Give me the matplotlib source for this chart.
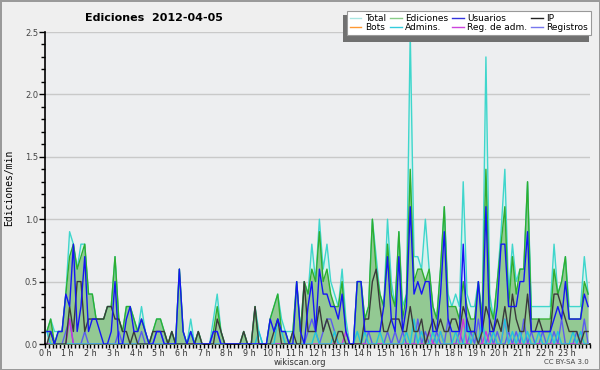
import matplotlib
matplotlib.use('Agg')
import matplotlib.pyplot as plt
from matplotlib.lines import Line2D
from matplotlib.patches import Rectangle
import numpy as np

# 10-minute bins over the day (144 bins), values in edits/min
hour_labels = [f"{h} h" for h in range(24)]

total = [
    0.1, 0.2, 0.1, 0.1, 0.1, 0.4,
    0.9, 0.8, 0.6, 0.8, 0.8, 0.4,
    0.4, 0.2, 0.2, 0.2, 0.3, 0.3,
    0.7, 0.2, 0.1, 0.3, 0.3, 0.2,
    0.1, 0.3, 0.1, 0.0, 0.1, 0.2,
    0.2, 0.1, 0.0, 0.1, 0.0, 0.6,
    0.1, 0.0, 0.2, 0.0, 0.1, 0.0,
    0.0, 0.0, 0.2, 0.4, 0.1, 0.0,
    0.0, 0.0, 0.0, 0.0, 0.1, 0.0,
    0.0, 0.3, 0.1, 0.0, 0.0, 0.2,
    0.3, 0.4, 0.2, 0.1, 0.1, 0.1,
    0.5, 0.1, 0.5, 0.4, 0.8, 0.5,
    1.0, 0.6, 0.8, 0.5, 0.4, 0.3,
    0.6, 0.2, 0.0, 0.0, 0.5, 0.5,
    0.2, 0.3, 1.0, 0.7, 0.4, 0.3,
    1.0, 0.5, 0.3, 0.9, 0.3, 0.4,
    2.5, 0.7, 0.7, 0.6, 1.0, 0.6,
    0.3, 0.2, 0.6, 1.1, 0.4, 0.3,
    0.4, 0.3, 1.3, 0.4, 0.3, 0.3,
    0.5, 0.2, 2.3, 0.4, 0.2, 0.5,
    0.9, 1.4, 0.4, 0.8, 0.5, 0.6,
    0.6, 1.3, 0.3, 0.3, 0.3, 0.3,
    0.3, 0.3, 0.8, 0.4, 0.5, 0.7,
    0.3, 0.3, 0.3, 0.3, 0.7, 0.4,
]

edits = [
    0.1, 0.2, 0.0, 0.1, 0.1, 0.4,
    0.7, 0.8, 0.6, 0.7, 0.8, 0.4,
    0.4, 0.2, 0.2, 0.2, 0.3, 0.3,
    0.7, 0.2, 0.1, 0.3, 0.3, 0.2,
    0.1, 0.2, 0.1, 0.0, 0.1, 0.2,
    0.2, 0.1, 0.0, 0.1, 0.0, 0.6,
    0.1, 0.0, 0.1, 0.0, 0.1, 0.0,
    0.0, 0.0, 0.1, 0.3, 0.1, 0.0,
    0.0, 0.0, 0.0, 0.0, 0.1, 0.0,
    0.0, 0.3, 0.0, 0.0, 0.0, 0.2,
    0.3, 0.4, 0.1, 0.1, 0.0, 0.1,
    0.5, 0.1, 0.5, 0.4, 0.6, 0.5,
    0.9, 0.5, 0.6, 0.4, 0.3, 0.3,
    0.5, 0.1, 0.0, 0.0, 0.5, 0.5,
    0.2, 0.3, 1.0, 0.6, 0.4, 0.3,
    0.8, 0.4, 0.3, 0.9, 0.2, 0.4,
    1.4, 0.5, 0.6, 0.6, 0.5, 0.6,
    0.3, 0.2, 0.6, 1.1, 0.3, 0.3,
    0.3, 0.2, 0.5, 0.3, 0.2, 0.2,
    0.5, 0.2, 1.4, 0.3, 0.2, 0.5,
    0.8, 1.1, 0.3, 0.7, 0.4, 0.6,
    0.6, 1.3, 0.2, 0.2, 0.2, 0.2,
    0.2, 0.2, 0.6, 0.4, 0.5, 0.7,
    0.2, 0.2, 0.2, 0.2, 0.5, 0.4,
]

users = [
    0.1, 0.1, 0.0, 0.1, 0.1, 0.4,
    0.3, 0.8, 0.1, 0.3, 0.7, 0.1,
    0.2, 0.2, 0.1, 0.0, 0.0, 0.1,
    0.5, 0.0, 0.0, 0.2, 0.3, 0.1,
    0.1, 0.2, 0.1, 0.0, 0.0, 0.1,
    0.1, 0.0, 0.0, 0.0, 0.0, 0.6,
    0.1, 0.0, 0.1, 0.0, 0.0, 0.0,
    0.0, 0.0, 0.1, 0.1, 0.0, 0.0,
    0.0, 0.0, 0.0, 0.0, 0.0, 0.0,
    0.0, 0.0, 0.0, 0.0, 0.0, 0.2,
    0.1, 0.2, 0.1, 0.1, 0.0, 0.0,
    0.5, 0.1, 0.0, 0.3, 0.5, 0.1,
    0.6, 0.4, 0.4, 0.3, 0.3, 0.2,
    0.4, 0.1, 0.0, 0.0, 0.5, 0.5,
    0.1, 0.1, 0.1, 0.1, 0.1, 0.3,
    0.7, 0.2, 0.1, 0.7, 0.1, 0.3,
    1.1, 0.4, 0.5, 0.4, 0.5, 0.5,
    0.1, 0.1, 0.4, 0.9, 0.2, 0.1,
    0.1, 0.1, 0.8, 0.1, 0.1, 0.1,
    0.5, 0.1, 1.1, 0.1, 0.1, 0.3,
    0.8, 0.8, 0.3, 0.3, 0.3, 0.5,
    0.5, 0.9, 0.1, 0.1, 0.1, 0.1,
    0.1, 0.1, 0.2, 0.3, 0.2, 0.5,
    0.2, 0.2, 0.2, 0.2, 0.4, 0.3,
]

ip = [
    0.0, 0.1, 0.0, 0.0, 0.0, 0.0,
    0.3, 0.1, 0.5, 0.5, 0.1, 0.2,
    0.2, 0.2, 0.2, 0.2, 0.3, 0.3,
    0.2, 0.2, 0.1, 0.1, 0.0, 0.1,
    0.0, 0.0, 0.0, 0.0, 0.1, 0.1,
    0.1, 0.1, 0.0, 0.1, 0.0, 0.0,
    0.0, 0.0, 0.0, 0.0, 0.1, 0.0,
    0.0, 0.0, 0.0, 0.2, 0.1, 0.0,
    0.0, 0.0, 0.0, 0.0, 0.1, 0.0,
    0.0, 0.3, 0.0, 0.0, 0.0, 0.0,
    0.1, 0.2, 0.0, 0.0, 0.0, 0.1,
    0.0, 0.0, 0.5, 0.1, 0.1, 0.1,
    0.3, 0.1, 0.2, 0.1, 0.0, 0.1,
    0.1, 0.0, 0.0, 0.0, 0.0, 0.0,
    0.2, 0.2, 0.5, 0.6, 0.3, 0.1,
    0.1, 0.2, 0.2, 0.2, 0.1, 0.1,
    0.3, 0.1, 0.1, 0.2, 0.0, 0.1,
    0.2, 0.1, 0.2, 0.1, 0.1, 0.2,
    0.2, 0.1, 0.3, 0.2, 0.1, 0.1,
    0.0, 0.1, 0.3, 0.2, 0.1, 0.2,
    0.1, 0.3, 0.1, 0.4, 0.2, 0.1,
    0.1, 0.4, 0.1, 0.1, 0.2, 0.1,
    0.1, 0.1, 0.4, 0.4, 0.3, 0.2,
    0.1, 0.1, 0.1, 0.0, 0.1, 0.1,
]

bots = [
    0, 0, 0, 0, 0, 0,  0, 0, 0, 0, 0, 0,  0, 0, 0, 0, 0, 0,  0, 0, 0, 0, 0, 0,
    0, 0, 0, 0, 0, 0,  0, 0, 0, 0, 0, 0,  0, 0, 0, 0, 0, 0,  0, 0, 0, 0, 0, 0,
    0, 0, 0, 0, 0, 0,  0, 0, 0, 0, 0, 0,  0, 0, 0, 0, 0, 0,  0, 0, 0, 0, 0, 0,
    0, 0, 0, 0, 0, 0,  0, 0, 0, 0, 0, 0,  0, 0, 0, 0, 0, 0,  0, 0, 0, 0, 0, 0,
    0, 0, 0, 0, 0, 0,  0, 0, 0, 0, 0, 0,  0, 0, 0, 0, 0, 0,  0, 0, 0, 0, 0, 0,
    0, 0, 0, 0, 0, 0,  0, 0, 0, 0, 0, 0,  0, 0, 0, 0, 0, 0,  0, 0, 0, 0, 0, 0,
]

admins = [
    0.1, 0, 0, 0, 0, 0,
    0, 0, 0, 0, 0, 0,
    0, 0, 0, 0, 0, 0,
    0, 0, 0, 0, 0, 0,
    0, 0, 0, 0, 0, 0,
    0, 0, 0, 0, 0, 0,
    0, 0, 0.1, 0, 0, 0,
    0, 0, 0, 0, 0, 0,
    0, 0, 0, 0, 0, 0,
    0, 0, 0.1, 0, 0, 0,
    0, 0.2, 0.1, 0, 0, 0,
    0, 0, 0, 0, 0, 0.1,
    0, 0, 0, 0, 0.1, 0,
    0, 0, 0, 0, 0.1, 0,
    0.1, 0, 0, 0, 0.1, 0,
    0, 0, 0, 0, 0, 0.1,
    0, 0.2, 0, 0.1, 0, 0,
    0.1, 0, 0.1, 0, 0, 0,
    0.1, 0, 0, 0.2, 0, 0.1,
    0, 0.2, 0, 0, 0.1, 0,
    0, 0.2, 0, 0.1, 0, 0.1,
    0, 0.1, 0, 0, 0.1, 0,
    0, 0.1, 0, 0.1, 0, 0,
    0, 0.1, 0, 0.1, 0, 0,
]

reg_adm = [
    0, 0, 0, 0, 0, 0,
    0.2, 0, 0, 0, 0, 0,
    0, 0, 0, 0, 0, 0,
    0, 0, 0, 0, 0, 0,
    0, 0, 0, 0, 0, 0,
    0, 0, 0, 0, 0, 0,
    0, 0, 0, 0, 0, 0,
    0, 0, 0, 0, 0, 0,
    0, 0, 0, 0, 0, 0,
    0, 0, 0, 0, 0, 0,
    0, 0, 0, 0, 0, 0,
    0, 0, 0, 0, 0, 0,
    0, 0, 0, 0, 0, 0,
    0, 0.1, 0, 0, 0, 0,
    0, 0, 0, 0, 0, 0,
    0, 0, 0, 0, 0, 0,
    0, 0, 0, 0, 0, 0.1,
    0, 0, 0.1, 0, 0, 0,
    0, 0, 0.2, 0, 0, 0.1,
    0, 0, 0.1, 0, 0, 0,
    0, 0.2, 0, 0, 0, 0,
    0, 0, 0, 0, 0, 0,
    0, 0, 0, 0, 0, 0,
    0, 0, 0, 0, 0, 0,
]

registros = [
    0, 0, 0, 0, 0, 0.1,
    0.2, 0, 0, 0, 0.1, 0,
    0, 0, 0, 0, 0, 0,
    0, 0.1, 0, 0, 0, 0,
    0, 0.1, 0, 0, 0, 0.1,
    0.1, 0, 0, 0, 0, 0,
    0, 0, 0, 0, 0, 0,
    0, 0, 0.1, 0.1, 0, 0,
    0, 0, 0, 0, 0, 0,
    0, 0, 0, 0, 0, 0,
    0, 0, 0, 0, 0, 0,
    0, 0, 0, 0.1, 0.2, 0.1,
    0, 0.1, 0.2, 0.2, 0.1, 0,
    0, 0, 0, 0, 0, 0,
    0, 0.1, 0, 0, 0, 0,
    0.1, 0, 0.1, 0, 0.1, 0,
    0, 0, 0.2, 0, 0.1, 0,
    0, 0.1, 0, 0, 0.2, 0,
    0, 0.1, 0, 0, 0.1, 0,
    0.2, 0, 0, 0.1, 0, 0.1,
    0, 0, 0.1, 0, 0.1, 0,
    0.2, 0, 0.1, 0, 0, 0.1,
    0, 0, 0.1, 0, 0.2, 0,
    0, 0, 0.1, 0, 0.2, 0,
]

legend_labels = ["Total", "Bots", "Ediciones", "Admins.",
                 "Usuarios", "Reg. de adm.", "IP", "Registros"]

W, H = 600, 370
fig = plt.figure(figsize=(6, 3.7), dpi=100, facecolor='#efefef')
fig.patch.set_edgecolor('#9a9a9a')
fig.patch.set_linewidth(2)

ax = fig.add_axes([45 / W, 26 / H, 545 / W, 312 / H])
ax.set_facecolor('#edeef0')

n = len(total)
x = np.arange(n) + 0.5

ax.fill_between(x, total, color='#d6f2ee', lw=0, zorder=2)
ax.fill_between(x, edits, color='#93c993', lw=0, zorder=3)
ax.plot(x, bots, color='#ff9933', lw=1, zorder=1)
ax.plot(x, total, color='#3fd6cc', lw=1, zorder=4)
ax.plot(x, edits, color='#2fae2f', lw=1, zorder=5)
ax.plot(x, registros, color='#5c5cf0', lw=1, zorder=6)
ax.plot(x, reg_adm, color='#cc33dd', lw=1, zorder=6)
ax.plot(x, admins, color='#20c4dc', lw=1, zorder=6)
ax.plot(x, ip, color='#3a3a3a', lw=1, zorder=7)
ax.plot(x, users, color='#1515f5', lw=1, zorder=8)

ax.set_xlim(0, n)
ax.set_ylim(0, 2.5)

ax.set_yticks(np.arange(0, 2.51, 0.5))
ax.set_yticklabels([f"{v:.1f}" for v in np.arange(0, 2.51, 0.5)])
ax.set_yticks(np.arange(0, 2.51, 0.1), minor=True)
ax.yaxis.grid(True, which='major', color='#c9c9c9', lw=1)
ax.set_axisbelow(True)
ax.tick_params(axis='y', which='major', length=4, width=1, labelsize=6,
               labelcolor='#444444', pad=1)
ax.tick_params(axis='y', which='minor', length=3, width=1)

ax.set_xticks(np.arange(0, n, 6))
ax.set_xticklabels(hour_labels)
ax.set_xticks(np.arange(0, n + 1, 1), minor=True)
ax.tick_params(axis='x', which='both', length=3, width=1, direction='out')
ax.tick_params(axis='x', which='major', labelsize=5.8, labelcolor='#333333', pad=0.5)

for s in ['top', 'right']:
    ax.spines[s].set_visible(False)
for s in ['left', 'bottom']:
    ax.spines[s].set_color('black')
    ax.spines[s].set_linewidth(1.2)

fig.text(154 / W, 1 - 18 / H, "Ediciones  2012-04-05", ha='center', va='center',
         fontsize=8, fontweight='bold')
fig.text(9 / W, 1 - 188 / H, "Ediciones/min", rotation=90, ha='center', va='center',
         family='DejaVu Sans Mono', fontsize=7)
fig.text(300 / W, 1 - 362.5 / H, "wikiscan.org", ha='center', va='center',
         fontsize=6, color='#333333')
fig.text(589 / W, 1 - 362 / H, "CC BY-SA 3.0", ha='right', va='center',
         fontsize=5, color='#444444')

leg_colors = ['#a9e6e2', '#ff9933', '#88cc88', '#33ccdd',
              '#3333dd', '#cc44dd', '#222222', '#7777ee']
handles = [Line2D([], [], color=c, lw=1) for c in leg_colors]

shadow = Rectangle((343 / W, 1 - 42 / H), (589 - 343) / W, (42 - 15) / H,
                   transform=fig.transFigure, facecolor='#707070', edgecolor='none',
                   zorder=3)
fig.add_artist(shadow)

leg = fig.legend(handles, legend_labels, ncol=4, loc='upper left',
                 bbox_to_anchor=(347 / W, 1 - 11 / H), frameon=True, fancybox=False,
                 fontsize=6.5, handlelength=1.3, handletextpad=0.4,
                 columnspacing=0.4, labelspacing=0.05, borderpad=0.3,
                 borderaxespad=0)
leg.set_zorder(10)
leg.get_frame().set_edgecolor('#999999')
leg.get_frame().set_facecolor('white')
leg.get_frame().set_alpha(1)
leg.get_frame().set_linewidth(0.8)

fig.savefig('out.png', dpi=100, facecolor=fig.get_facecolor(), edgecolor=fig.get_edgecolor())
